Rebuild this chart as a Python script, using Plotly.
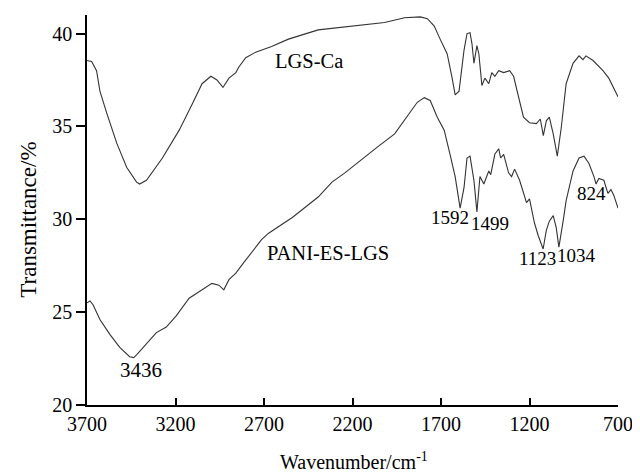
import plotly.graph_objects as go

# LGS-Ca spectrum (wavenumber cm^-1, transmittance %)
lgs_wn = [3700, 3674, 3646, 3627, 3588, 3532, 3476, 3420, 3403, 3364, 3274, 3179, 3106, 3050,
          3000, 2966, 2932, 2898, 2859, 2842, 2803, 2747, 2657, 2562, 2394, 2209, 2019, 1906,
          1817, 1777, 1738, 1705, 1665, 1637, 1620, 1598, 1570, 1553, 1536, 1525, 1514, 1497,
          1486, 1469, 1452, 1430, 1413, 1396, 1374, 1346, 1312, 1290, 1262, 1234, 1200, 1161,
          1139, 1122, 1105, 1088, 1066, 1043, 1021, 993, 954, 920, 898, 881, 841, 785, 752, 700]
lgs_t = [38.55, 38.5, 38.0, 36.9, 35.7, 34.1, 32.8, 32.0, 31.9, 32.1, 33.3, 34.8, 36.2, 37.3,
         37.7, 37.5, 37.1, 37.6, 37.9, 38.2, 38.7, 39.0, 39.3, 39.7, 40.2, 40.4, 40.6, 40.85,
         40.9, 40.8, 40.4, 39.7, 38.9, 37.6, 36.7, 36.9, 39.1, 40.0, 40.05, 39.45, 38.4, 39.35,
         38.9, 37.2, 37.6, 37.3, 37.9, 37.7, 38.0, 37.9, 38.0, 37.7, 36.6, 35.5, 35.2, 35.15,
         35.4, 34.5, 35.3, 35.5, 34.6, 33.4, 34.9, 37.3, 38.4, 38.8, 38.6, 38.8, 38.55, 38.0, 37.6, 36.6]

# PANI-ES-LGS spectrum
pani_wn = [3700, 3683, 3666, 3627, 3571, 3515, 3459, 3436, 3420, 3364, 3308, 3252, 3196, 3123,
           3050, 2994, 2955, 2927, 2898, 2859, 2820, 2764, 2714, 2674, 2540, 2394, 2316, 2243,
           2153, 2058, 1962, 1873, 1834, 1794, 1761, 1721, 1682, 1649, 1620, 1592, 1570, 1553,
           1536, 1514, 1497, 1480, 1458, 1430, 1419, 1396, 1374, 1363, 1346, 1318, 1301, 1284,
           1256, 1217, 1200, 1172, 1150, 1123, 1105, 1088, 1066, 1049, 1034, 1010, 993, 954,
           920, 892, 864, 836, 824, 808, 780, 757, 740, 724, 700]
pani_t = [25.5, 25.6, 25.4, 24.6, 23.8, 23.1, 22.6, 22.55, 22.7, 23.3, 23.9, 24.2, 24.8, 25.75,
          26.2, 26.55, 26.45, 26.2, 26.75, 27.1, 27.6, 28.3, 28.9, 29.25, 30.1, 31.2, 32.0, 32.5,
          33.2, 33.9, 34.6, 35.75, 36.3, 36.55, 36.4, 35.5, 34.8, 33.5, 32.3, 30.6, 31.7, 33.3,
          33.4, 32.1, 30.4, 32.3, 31.9, 32.6, 32.4, 33.5, 33.8, 33.3, 33.5, 32.5, 32.3, 32.7,
          32.1, 30.9, 31.1, 29.8, 29.1, 28.4, 29.4, 29.9, 30.2, 29.55, 28.5, 29.9, 31.0, 32.6,
          33.3, 33.4, 33.0, 32.3, 31.9, 32.2, 32.1, 31.4, 31.6, 31.3, 30.6]

# Text labels: (text, wavenumber, transmittance)
series_labels = [("LGS-Ca", 2444, 38.55), ("PANI-ES-LGS", 2338, 28.2)]
peak_labels = [("3436", 3395, 21.9, 21), ("1592", 1649, 30.1, 19), ("1499", 1422, 29.8, 19),
               ("1123", 1153, 27.9, 19), ("1034", 934, 28.06, 19), ("824", 850, 31.4, 19)]

x_ticks = [3700, 3200, 2700, 2200, 1700, 1200, 700]
y_ticks = [20, 25, 30, 35, 40]

FONT = "Liberation Serif, Times New Roman, serif"
LINE = "#333333"
INK = "#000000"

fig = go.Figure()
fig.add_trace(go.Scatter(x=lgs_wn, y=lgs_t, mode="lines",
                         line=dict(color=LINE, width=1.1), showlegend=False))
fig.add_trace(go.Scatter(x=pani_wn, y=pani_t, mode="lines",
                         line=dict(color=LINE, width=1.1), showlegend=False))

for txt, xv, yv in series_labels:
    fig.add_annotation(x=xv, y=yv, text=txt, showarrow=False,
                       font=dict(family=FONT, size=20.5, color=INK))
for txt, xv, yv, sz in peak_labels:
    fig.add_annotation(x=xv, y=yv, text=txt, showarrow=False,
                       font=dict(family=FONT, size=sz, color=INK))

# axis titles placed as annotations
fig.add_annotation(xref="paper", yref="paper", x=-0.110, y=0.474, text="Transmittance/%",
                   textangle=-90, showarrow=False, xanchor="center", yanchor="middle",
                   font=dict(family=FONT, size=23, color=INK))
fig.add_annotation(xref="paper", yref="paper", x=0.503, y=-0.1436, text="Wavenumber/cm<sup>-1</sup>",
                   showarrow=False, xanchor="center", yanchor="middle",
                   font=dict(family=FONT, size=20, color=INK))

fig.update_layout(
    width=632, height=464,
    margin=dict(l=79, r=18, t=7, b=67),
    paper_bgcolor="white", plot_bgcolor="white",
    font=dict(family=FONT, size=20, color=INK),
    xaxis=dict(range=[3700, 700], tickvals=x_ticks, ticktext=[str(v) for v in x_ticks],
               showline=True, linecolor=INK, linewidth=1.5, showgrid=False, zeroline=False,
               ticks="inside", ticklen=7, tickwidth=1.5, tickcolor=INK,
               tickfont=dict(family=FONT, size=20, color=INK)),
    yaxis=dict(range=[20, 41], tickvals=y_ticks, ticktext=[str(v) for v in y_ticks],
               showline=True, linecolor=INK, linewidth=1.5, showgrid=False, zeroline=False,
               ticks="outside", ticklen=9, tickwidth=1.5, tickcolor=INK,
               tickfont=dict(family=FONT, size=20, color=INK)),
)

fig.write_html("out.html")
